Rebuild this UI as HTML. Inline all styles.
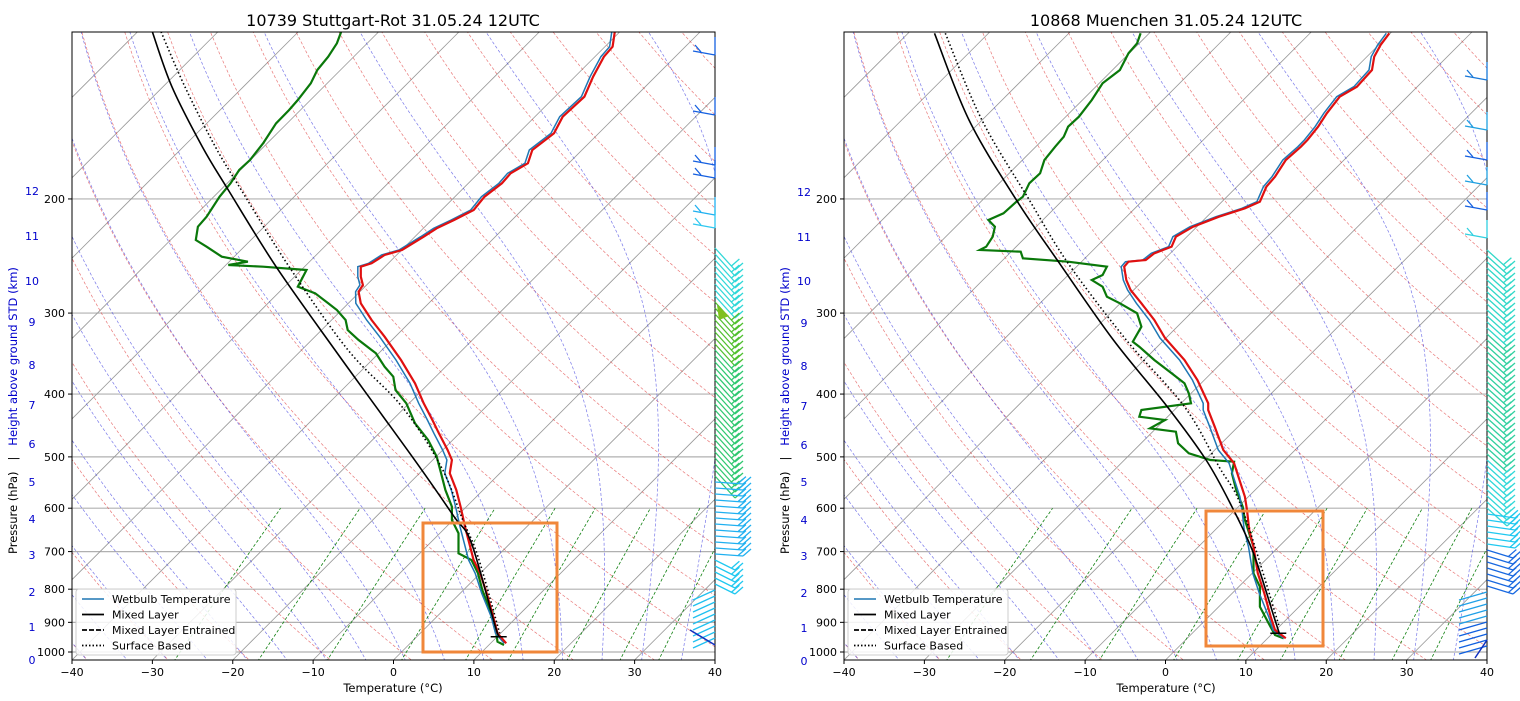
<!DOCTYPE html>
<html><head><meta charset="utf-8">
<style>
html,body{margin:0;padding:0;background:#fff;}
svg{display:block;font-family:"DejaVu Sans","Liberation Sans",sans-serif;}
</style></head>
<body>
<svg id="s" width="1520" height="701" viewBox="0 0 1520 701" xmlns="http://www.w3.org/2000/svg">
<rect x="0" y="0" width="1520" height="701" fill="#fff"/>
<text x="393" y="26" font-size="16" text-anchor="middle">10739 Stuttgart-Rot 31.05.24 12UTC</text>
<text x="1166" y="26" font-size="16" text-anchor="middle">10868 Muenchen 31.05.24 12UTC</text>
<text x="393" y="692" font-size="11.5" text-anchor="middle">Temperature (°C)</text>
<text x="1166" y="692" font-size="11.5" text-anchor="middle">Temperature (°C)</text>
<text transform="translate(17,554) rotate(-90)" font-size="11.5" xml:space="preserve"><tspan fill="#000">Pressure (hPa)   |   </tspan><tspan fill="#00c">Height above ground STD (km)</tspan></text>
<text transform="translate(789,554) rotate(-90)" font-size="11.5" xml:space="preserve"><tspan fill="#000">Pressure (hPa)   |   </tspan><tspan fill="#00c">Height above ground STD (km)</tspan></text>
</svg>
<script>
(function(){
var svg=document.getElementById('s'),NS='http://www.w3.org/2000/svg';
function el(t,a,p){var e=document.createElementNS(NS,t);for(var k in a)e.setAttribute(k,a[k]);(p||svg).appendChild(e);return e;}
function yP(p){return 652-281.5*Math.log(1000/p);}
function pts(a){var s='';for(var i=0;i<a.length;i+=2)s+=a[i].toFixed(1)+','+a[i+1].toFixed(1)+' ';return s;}
function smooth(a){var P=[];for(var i=0;i<a.length;i+=2)P.push([a[i],a[i+1]]);var d='M'+P[0][0]+','+P[0][1];
 for(var i=0;i<P.length-1;i++){var p0=P[Math.max(0,i-1)],p1=P[i],p2=P[i+1],p3=P[Math.min(P.length-1,i+2)];
 d+=' C'+(p1[0]+(p2[0]-p0[0])/6)+','+(p1[1]+(p2[1]-p0[1])/6)+' '+(p2[0]-(p3[0]-p1[0])/6)+','+(p2[1]-(p3[1]-p1[1])/6)+' '+p2[0]+','+p2[1];}return d;}
var panels=[
{x0:72,box:[423,523,134,129],
red:[614.8,31.7,612.6,46.7,603.9,56.7,593.1,76.7,584.4,96.7,562.7,116.7,554,133.3,532.3,150,527.9,163.3,510.6,173.3,501.9,183.3,484.5,196.7,473.7,210,454.1,220,436.7,228.3,423.7,236.7,402,250,384.6,255,371.6,263.3,360.8,266.7,360.8,276.7,362.9,285,358.6,291.7,360.8,303.3,371.6,320,384.6,336.7,401,360,415,383.3,423.7,403.3,432.4,420,438.9,433.3,447.6,450,451.9,460,449.8,473.3,456.3,490,460.6,506.7,465,526.7,469.3,543.3,473.6,560,480.2,573.3,486.7,593.3,493.2,616.7,497.5,633.3,506.2,643.3],
green:[341.2,31.7,336.9,43.3,328.2,56.7,317.3,70,310.8,83.3,297.8,100,289.1,110,276.1,123.3,263.1,143.3,250,160,239.2,170,230.5,183.3,219.6,196.7,206.6,216.7,197.9,226.7,195.8,240,206.6,246.7,221.8,256.7,247.9,261.7,228.3,265,263.1,266.7,306.5,270,297.8,286.7,315.2,293.3,328.2,303.3,336.9,310,345.6,320,347.7,330,358.6,340,371.6,350,375.9,353.3,384.6,366.7,393.3,376.7,395.5,390,406.3,403.3,415,423.3,428.1,440,436.7,456.7,441.1,473.3,445.4,490,451.9,506.7,451.9,520,458.5,533.3,458.5,553.3,471.5,560,478,573.3,482.3,590,488.8,606.7,495.4,626.7,497.5,641.7,504,645],
black:[152.3,31.7,171.9,86.7,202.3,146.7,228.3,190,276.1,266.7,335,350,376,406.7,419.4,466.7,454.1,516.7,471.5,543.3,495.4,626.7,499.7,636.7],
dot:[161,31.7,184.9,86.7,215.3,146.7,241.3,190,289.1,266.7,348,350,402,406.7,441.1,466.7,462.8,520,478,556.7,499.7,633.3],
km:[[12,191],[11,236],[10,281],[9,322],[8,365],[7,405],[6,444],[5,482],[4,519],[3,555],[2,592],[1,627],[0,660]]},
{x0:844,box:[1206,511,117,135],
red:[1389.3,33.3,1380.6,45,1374.2,56.7,1372,70,1356.9,86.7,1339.7,96.7,1326.8,113.3,1318.1,126.7,1307.4,140,1300.9,146.7,1285.8,160,1275,176.7,1266.4,186.7,1259.9,201.7,1244.9,208.3,1219,216.7,1193.1,226.7,1175.9,236.7,1171.6,246.7,1154.3,253.3,1145.7,260,1128.5,261.7,1124.2,266.7,1126.3,280,1130.6,290,1141.4,303.3,1154.3,320,1165,338,1184.5,360,1197.4,380,1208.2,403.3,1208.2,410,1214.7,426.7,1223.3,450,1234.1,463.3,1238.4,476.7,1244.9,496.7,1247,510,1249.2,530,1253.5,546.7,1257.8,573.3,1264.3,593.3,1270.7,616.7,1275,630,1285.8,638.3],
green:[1140.6,33.3,1137.1,43.3,1128.5,53.3,1119.9,70,1102.6,83.3,1091.8,100,1078.9,116.7,1068.1,126.7,1063.8,136.7,1055.2,146.7,1044.4,160,1040.1,173.3,1029.3,183.3,1022.9,196.7,1016.4,201.7,1003.5,213.3,988.4,220,994.9,226.7,992.7,236.7,986.2,246.7,979.8,250,1020.7,251.7,1022.9,258.3,1068.1,261.7,1106.9,266.7,1102.6,275,1091.8,280,1102.6,286.7,1106.9,296.7,1119.9,303.3,1137.1,313.3,1141.4,326.7,1132.8,341.7,1139.3,346.7,1154.3,360,1171.6,373.3,1184.5,383.3,1188.8,393.3,1191,403.3,1141.4,410,1139.3,416.7,1165.1,420,1150,428.3,1175.9,431.7,1178.1,443.3,1188.8,453.3,1210.4,460,1234.1,461.7,1231.9,473.3,1236.2,490,1242.7,506.7,1244.9,520,1253.5,546.7,1253.5,573.3,1259.9,586.7,1259.9,606.7,1268.6,623.3,1275,635,1283.7,638.3],
black:[934.5,33.3,969,120,1016.4,200,1059.5,263.3,1113.4,340,1167.3,406.7,1206.1,460,1231.9,506.7,1253.5,553.3,1275,620,1279.3,633.3],
dot:[945.3,33.3,981.9,120,1029.3,200,1068.1,263.3,1126.3,340,1184.5,406.7,1219,466.7,1242.7,510,1279.3,626.7],
km:[[12,192],[11,237],[10,281],[9,323],[8,366],[7,406],[6,445],[5,482],[4,520],[3,556],[2,593],[1,628],[0,661]]}];

panels.forEach(function(P,pi){
 var x0=P.x0,W=643,top=32,bot=660,s=W/80;
 function xP(T,y){return x0+(T+40)*s+(bot-y);}
 var cid='c'+pi;var cp=el('clipPath',{id:cid});el('rect',{x:x0,y:top,width:W,height:bot-top},cp);
 var g=el('g',{'clip-path':'url(#'+cid+')'});
 for(var p=100;p<=1000;p+=100){var y=yP(p);el('line',{x1:x0,x2:x0+W,y1:y,y2:y,stroke:'#b0b0b0','stroke-width':1.2},g);}
 for(var T=-140;T<=40;T+=10){el('line',{x1:xP(T,bot),y1:bot,x2:xP(T,top),y2:top,stroke:'#999','stroke-width':0.8},g);}
 for(var t0=-50;t0<=200;t0+=10){var th=t0+273.15,a=[];for(var p=1050;p>=100;p-=10){var T=th*Math.pow(p/1000,0.2857)-273.15,y=yP(p);a.push(xP(T,y),y);}
  el('polyline',{points:pts(a),fill:'none',stroke:'#e04040','stroke-width':0.7,'stroke-opacity':0.7,'stroke-dasharray':'3,2'},g);}
 var t0s=[];for(var t=-50;t<=45;t+=5)t0s.push(t);
 function es(Tc){return 6.112*Math.exp(17.67*Tc/(Tc+243.5));}
 function dTdp(T,p){var Tc=T-273.15,e=es(Tc),rs=0.622*e/(p-e);return (287.04*T+2.501e6*rs)/(1005.7+2.501e6*2.501e6*rs*0.622/(287.04*T*T))/p;}
 t0s.forEach(function(t0){var T=t0+273.15,p=1000;
  var T2=T;for(var q=1000;q<1050;q+=5){T2+=dTdp(T2,q)*5;}
  var a=[xP(T2-273.15,yP(1050)),yP(1050)];var y=yP(1000);a.push(xP(t0,y),y);
  for(p=1000;p>100;p-=5){var k1=dTdp(T,p),Tm=T-k1*2.5,k2=dTdp(Tm,p-2.5);T-=k2*5;var yy=yP(p-5);a.push(xP(T-273.15,yy),yy);}
  el('polyline',{points:pts(a),fill:'none',stroke:'#4040e0','stroke-width':0.7,'stroke-opacity':0.7,'stroke-dasharray':'3,2'},g);});
 [0.0004,0.001,0.002,0.004,0.007,0.01,0.016,0.024,0.032].forEach(function(w){var a=[];for(var p=1050;p>=600;p-=10){var e=w*p/(0.622+w),l=Math.log(e/6.112),Td=243.5*l/(17.67-l),y=yP(p);a.push(xP(Td,y),y);}
  el('polyline',{points:pts(a),fill:'none',stroke:'#108010','stroke-width':0.8,'stroke-dasharray':'3,2'},g);});
 var wb=[];for(var i=0;i<P.red.length;i+=2){var off=P.red[i+1]<300?3:5;if(P.red[i+1]>600)off=2;wb.push(P.red[i]-off,P.red[i+1]);}
 el('polyline',{points:pts(P.green),fill:'none',stroke:'#0a780a','stroke-width':2.2},g);
 el('polyline',{points:pts(wb),fill:'none',stroke:'#1f77b4','stroke-width':1.5},g);
 el('polyline',{points:pts(P.red),fill:'none',stroke:'#e01010','stroke-width':2.2},g);
 el('path',{d:smooth(P.black),fill:'none',stroke:'#000','stroke-width':1.6},g);
 el('path',{d:smooth(P.dot),fill:'none',stroke:'#000','stroke-width':1.6,'stroke-dasharray':'1.5,2.5'},g);
 var lb=P.black[P.black.length-2],lby=P.black[P.black.length-1];
 el('line',{x1:lb-9,x2:lb+7,y1:lby,y2:lby,stroke:'#000','stroke-width':1.5},g);
 el('rect',{x:P.box[0],y:P.box[1],width:P.box[2],height:P.box[3],fill:'none',stroke:'#f0873a','stroke-width':3});
 el('rect',{x:x0,y:top,width:W,height:bot-top,fill:'none',stroke:'#000','stroke-width':1});
 for(var T=-40;T<=40;T+=10){var x=x0+(T+40)*s;el('line',{x1:x,x2:x,y1:bot,y2:bot+4,stroke:'#000'});
  var t=el('text',{x:x,y:bot+16,'font-size':11,'text-anchor':'middle'});t.textContent=(T<0?'\u2212'+(-T):T);}
 for(var p=200;p<=1000;p+=100){var y=yP(p);el('line',{x1:x0-4,x2:x0,y1:y,y2:y,stroke:'#000'});
  var t=el('text',{x:x0-7,y:y+4,'font-size':11,'text-anchor':'end'});t.textContent=p;}
 P.km.forEach(function(k){var t=el('text',{x:x0-40,y:k[1]+4,'font-size':11,'text-anchor':'middle',fill:'#00c'});t.textContent=k[0];});
 var lx=x0+4,ly=589;
 el('rect',{x:lx,y:ly,width:160,height:66,rx:3,fill:'#fff','fill-opacity':0.85,stroke:'#ccc'});
 [['Wetbulb Temperature','#1f77b4',''],['Mixed Layer','#000',''],['Mixed Layer Entrained','#000','5,2'],['Surface Based','#000','1.5,2']].forEach(function(L,i){
  var yy=ly+10+i*15.5;var a={x1:lx+6,x2:lx+28,y1:yy,y2:yy,stroke:L[1],'stroke-width':L[1]=='#000'?1.8:1.5};if(L[2])a['stroke-dasharray']=L[2];el('line',a);
  var t=el('text',{x:lx+36,y:yy+4,'font-size':11});t.textContent=L[0];});
 var ax=x0+W;
 function barb(y,col,dx,dy,n){var ex=ax+dx,ey=y+dy;el('line',{x1:ax,y1:y,x2:ex,y2:ey,stroke:col,'stroke-width':1.3});
  for(var j=0;j<n;j++){var f=1-j*0.18,bx=ax+dx*f,by=y+dy*f;el('line',{x1:bx,y1:by,x2:bx+8,y2:by-7,stroke:col,'stroke-width':1.3});}}
 function upper(y,col){el('line',{x1:ax,y1:y-18,x2:ax,y2:y,stroke:col,'stroke-width':1.3});el('line',{x1:ax,y1:y,x2:ax-22,y2:y-4,stroke:col,'stroke-width':1.3});el('line',{x1:ax-14,y1:y-3,x2:ax-20,y2:y-10,stroke:col,'stroke-width':1.3});}
 if(pi==0){
  [[55,'#1560e0'],[115,'#1560e0'],[165,'#1560e0'],[178,'#1560e0'],[215,'#20b0f0'],[228,'#30c8f0']].forEach(function(b){upper(b[0],b[1]);});
  for(var y=248;y<640;y+=6){var col,dx=20,dy=22,n=2;
   if(y<300)col='#30d8d8';else if(y<400)col='#30c040';else if(y<480)col='#30d8b0';else if(y<560){col='#20b0f0';dx=28;dy=2;}else{col='#20c8f0';dx=20;dy=10;}
   if(y<480&&y>300)col=(y<350?'#50c030':'#30c870');
   if(y>=590){el('line',{x1:ax,y1:y,x2:ax-22,y2:y+10,stroke:'#20c0f0','stroke-width':1.3});continue;}
   barb(y,col,dx,dy,n);}
  el('line',{x1:ax-25,y1:630,x2:ax,y2:645,stroke:'#1030c0','stroke-width':1.5});
  el('polygon',{points:(ax+2)+',305 '+(ax+14)+',316 '+(ax+4)+',320',fill:'#80c020'});
 }else{
  [[80,'#1878d8'],[130,'#20a0e0'],[160,'#1560e0'],[185,'#20a0e0'],[210,'#1560e0'],[238,'#30d0e0']].forEach(function(b){upper(b[0],b[1]);});
  for(var y=250;y<590;y+=6){var col,dx=20,dy=18,n=2;
   if(y<330)col='#30d8c8';else if(y<460)col='#30d0a0';else if(y<510)col='#30d8d8';else if(y<545){col='#20c8f0';dx=28;dy=4;}else{col='#1868e0';dx=26;dy=8;}
   barb(y,col,dx,dy,n);}
  for(var y=592;y<650;y+=6){el('line',{x1:ax,y1:y,x2:ax-28,y2:y+8,stroke:y<620?'#20a0e8':'#1060e0','stroke-width':1.3});}
  el('line',{x1:ax,y1:640,x2:ax-12,y2:658,stroke:'#1030c0','stroke-width':1.5});
 }
});
})();
</script>
</body></html>
